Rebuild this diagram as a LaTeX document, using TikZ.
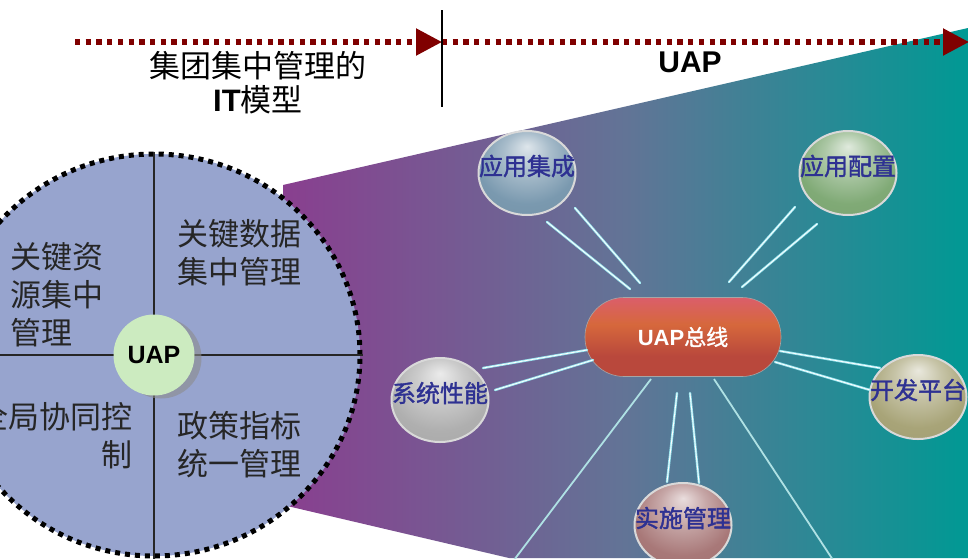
\documentclass[tikz,border=0pt]{standalone}
\usepackage{fontspec}
\setmainfont[AutoFakeBold=1.5]{Noto Sans CJK SC}
\newfontfamily\arialfont{Liberation Sans}
\usetikzlibrary{arrows.meta,shapes.geometric,shadows,positioning}
\definecolor{darkred}{RGB}{128,0,0}
\definecolor{fanleft}{RGB}{137,63,143}
\definecolor{fanmid}{RGB}{98,116,150}
\definecolor{fanright}{RGB}{0,153,148}
\definecolor{corefill}{RGB}{151,164,206}
\definecolor{hubgreen}{RGB}{204,235,192}
\definecolor{labelblue}{RGB}{46,49,146}
\definecolor{raycyan}{RGB}{150,228,238}
\definecolor{beamcol}{RGB}{175,225,228}
\definecolor{jccol}{RGB}{122,153,175}
\definecolor{pzcol}{RGB}{128,170,118}
\definecolor{xncol}{RGB}{175,175,175}
\definecolor{kfcol}{RGB}{168,164,120}
\definecolor{sscol}{RGB}{168,120,120}
\definecolor{pilltop}{RGB}{255,110,180}
\definecolor{pillmid}{RGB}{214,104,60}
\definecolor{pilldark}{RGB}{185,72,60}
\definecolor{pillbot}{RGB}{228,82,66}
\colorlet{sph}{gray}
\pgfdeclareradialshading[sph]{sphere}{\pgfpoint{0bp}{16bp}}{color(0bp)=(sph!25!white); color(12bp)=(sph!65!white); color(26bp)=(sph); color(50bp)=(sph!92!black)}
\pgfdeclareverticalshading{pill}{100bp}{color(0bp)=(pillbot); color(20bp)=(pilldark); color(38bp)=(pilldark); color(58bp)=(pillmid); color(80bp)=(pilltop!50!pilldark); color(92bp)=(pilltop!80!pilldark); color(100bp)=(pilltop)}
\tikzset{
  toparrow/.style={draw=darkred,line width=5.3pt,dash pattern=on 5.3pt off 5.4pt,-{Triangle[length=26pt,width=26pt]}},
  core/.style={ellipse,minimum width=412pt,minimum height=402pt,fill=corefill,draw=black,line width=5pt,dash pattern=on 5pt off 5pt},
  quadline/.style={draw=black!85,line width=1.6pt},
  quad/.style={font=\fontsize{31}{38}\selectfont,text=black!85,inner sep=0pt},
  hub/.style={circle,fill=hubgreen,minimum size=81pt,inner sep=0pt,font=\arialfont\bfseries\fontsize{25}{25}\selectfont,
    drop shadow={shadow xshift=7pt,shadow yshift=-3pt,fill=black!45,opacity=0.6}},
  sphcol/.code={\colorlet{sph}{#1}},
  bubble/.style={ellipse,minimum width=97pt,minimum height=84pt,inner sep=0pt,draw=black!15,line width=2pt,shading=sphere,sphcol=#1},
  balltext/.style={font=\fontsize{24}{26}\selectfont\bfseries,text=labelblue,yshift=7pt,inner sep=0pt},
  bus/.style={rectangle,rounded corners=39pt,minimum width=196pt,minimum height=79pt,shading=pill,draw=black!35,line width=0.6pt,
    text=white,font=\fontsize{22}{24}\selectfont\bfseries},
  ray/.style={draw=raycyan,line width=2.4pt,line cap=round,postaction={draw=white,line width=0.8pt,line cap=round}},
  beam/.style={draw=beamcol,line width=1.8pt}
}
\begin{document}
\begin{tikzpicture}[x=1pt,y=-1pt]
\useasboundingbox (0,0) rectangle (968,558);
\fill[white] (0,0) rectangle (968,558);

\shade[left color=fanleft,right color=fanright,middle color=fanmid]
  (283,185) -- (968,28) -- (968,558) -- (509,558) -- (283,505) -- cycle;

\coordinate (a0) at (75,42);
\coordinate (a1) at (442,42);
\coordinate (a2) at (969,42);
\coordinate (sept) at (442,10);
\coordinate (sepb) at (442,107);
\draw[toparrow] (a0) -- (a1);
\draw[toparrow] (a1) -- (a2);
\draw[black,line width=1.6pt] (sept) -- (sepb);

\node[align=center,font=\fontsize{31}{34}\selectfont] (itmodel) at (258,83)
  {集团集中管理的\\{\arialfont\bfseries IT}模型};
\node[font=\arialfont\bfseries\fontsize{30}{30}\selectfont] (uaptitle) at (690,62) {UAP};

\node[core] (core) at (154,355) {};
\draw[quadline] (core.north) -- (core.south);
\draw[quadline] (core.west) -- (core.east);
\node[hub] (hub) at (core.center) {UAP};
\node[quad,align=left,anchor=west] (res) at (10,295) {关键资\\源集中\\管理};
\node[quad,align=left,anchor=west] (data) at (177,253) {关键数据\\集中管理};
\node[quad,align=right,anchor=east] (coop) at (133,436) {全局协同控\\制};
\node[quad,align=left,anchor=west] (policy) at (177,445) {政策指标\\统一管理};

\node[bus] (bus) at (683,337) {{\arialfont\bfseries UAP}总线};
\node[bubble=jccol,label={[balltext]center:应用集成}] (jc) at (527,173) {};
\node[bubble=pzcol,label={[balltext]center:应用配置}] (pz) at (848,173) {};
\node[bubble=xncol,label={[balltext]center:系统性能}] (xn) at (440,400) {};
\node[bubble=kfcol,label={[balltext]center:开发平台}] (kf) at (918,397) {};
\node[bubble=sscol,label={[balltext]center:实施管理}] (ss) at (683,525) {};

\draw[ray] ([shift={(48,35)}]jc.center) -- ([shift={(-43,-54)}]bus.center);
\draw[ray] ([shift={(20,49)}]jc.center) -- ([shift={(-53,-48)}]bus.center);
\draw[ray] ([shift={(-53,34)}]pz.center) -- ([shift={(46,-55)}]bus.center);
\draw[ray] ([shift={(-31,51)}]pz.center) -- ([shift={(59,-50)}]bus.center);
\draw[ray] ([shift={(43,-32)}]xn.center) -- ([shift={(-96,13)}]bus.center);
\draw[ray] ([shift={(55,-10)}]xn.center) -- ([shift={(-90,23)}]bus.center);
\draw[ray] ([shift={(97,14)}]bus.center) -- ([shift={(-38,-29)}]kf.center);
\draw[ray] ([shift={(92,25)}]bus.center) -- ([shift={(-48,-7)}]kf.center);
\draw[ray] ([shift={(-6,56)}]bus.center) -- ([shift={(-16,-43)}]ss.center);
\draw[ray] ([shift={(7,56)}]bus.center) -- ([shift={(16,-42)}]ss.center);

\coordinate (lf) at (514,560);
\coordinate (rf) at (833,560);
\draw[beam] ([shift={(-32,42)}]bus.center) -- (lf);
\draw[beam] ([shift={(31,42)}]bus.center) -- (rf);
\end{tikzpicture}
\end{document}
